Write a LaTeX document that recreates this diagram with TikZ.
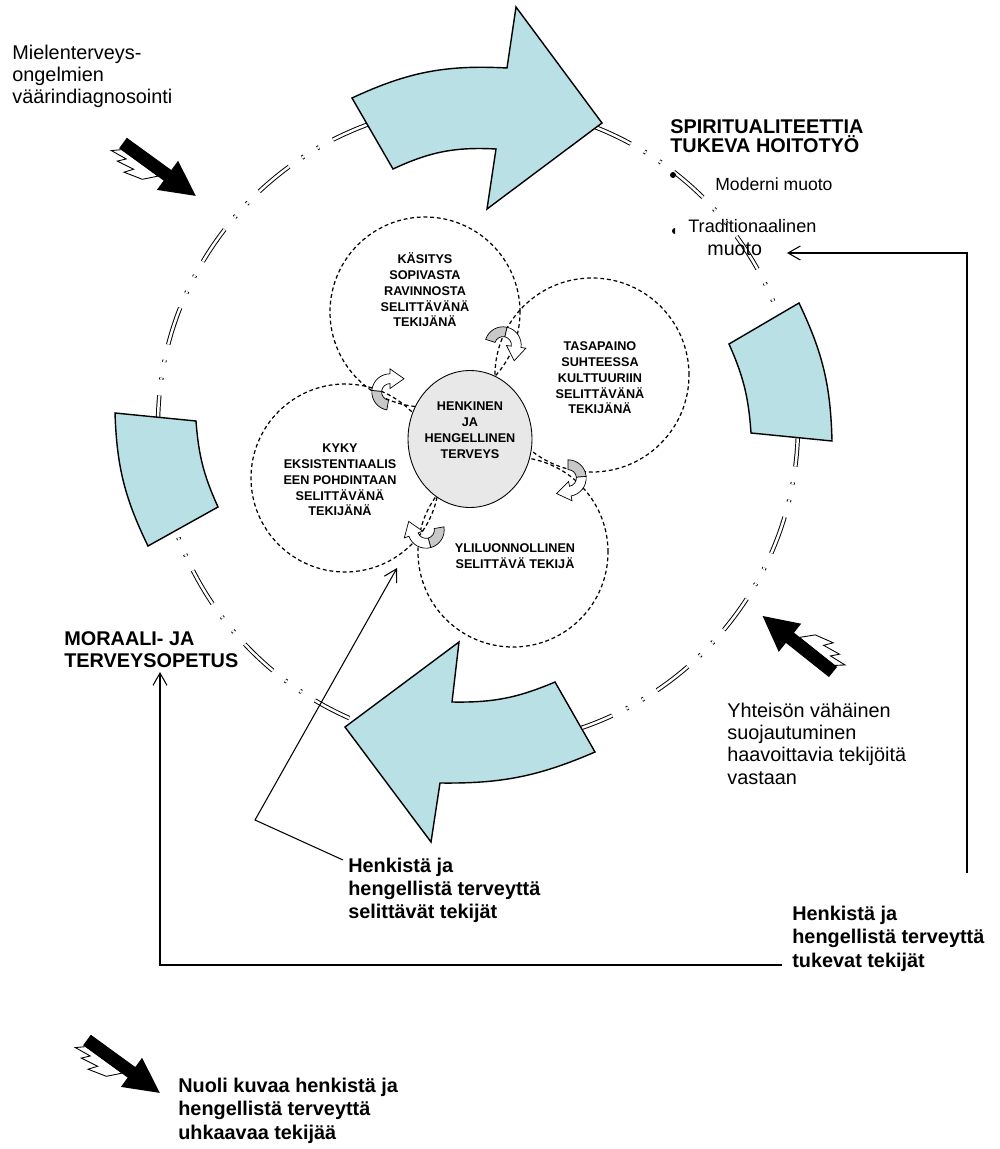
\documentclass[tikz,border=0pt]{standalone}
\usepackage{fontspec}
\setmainfont{Liberation Sans}
\usetikzlibrary{arrows.meta,shapes.geometric}
\definecolor{arrblue}{RGB}{185,224,228}
\definecolor{cycgray}{RGB}{200,200,200}
\definecolor{hubgray}{RGB}{232,232,232}
\begin{document}
\begin{tikzpicture}[x=0.02cm,y=0.02cm,
  ringline/.style={double, double distance=1.4pt, line width=0.55pt,
     dash pattern=on 22pt off 9pt on 1.2pt off 9pt on 1.2pt off 9pt},
  bluebox/.style={fill=arrblue, draw=black, line width=0.8pt},
  dcircle/.style={draw, dash pattern=on 2.2pt off 1.6pt, line width=0.7pt},
  inlabel/.style={font=\bfseries\fontsize{7.2}{9}\selectfont, align=center, inner sep=0pt},
  maintext/.style={align=left, inner sep=0pt, anchor=base west},
  conn/.style={line width=0.6pt},
  openarrow/.style={-{Straight Barb[length=7pt,width=8pt]}},
  cyc/.pic={
    \filldraw[fill=cycgray, line width=0.4pt] (180:13) arc[start angle=180,end angle=95,radius=13]
       -- (95:6) arc[start angle=95,end angle=180,radius=6] -- cycle;
    \filldraw[fill=white, line width=0.4pt] (95:13) arc[start angle=95,end angle=10,radius=13]
       -- (16.25,2.87) -- (11.09,-8.2) -- (2.46,0.43) -- (10:6) arc[start angle=10,end angle=95,radius=6] -- cycle;
  },
  threat/.pic={
    \filldraw[fill=white, line width=0.5pt] (3,-6) -- (-5,-13) -- (12,-11) -- (6,-18) -- (24,-15)
       -- (18,-23) -- (37,-18) -- (48,-6) -- cycle;
    \fill[black] (0,-6.5) -- (55,-6.5) -- (55,-18) -- (90,0) -- (55,18) -- (55,6.5) -- (0,6.5) -- cycle;
  }
]
\useasboundingbox (0,0) rectangle (1000,-1149);

% outer ring
\draw[ringline, dash phase=10pt] (478,-425) circle[radius=320];

% big blue shapes
\draw[bluebox] (352,-98) to[bend left=14] (507,-68) -- (516,-7) -- (602,-123) -- (487,-209) -- (496,-149) to[bend right=14] (393,-169) -- cycle;
\draw[bluebox] (555,-682) to[bend left=12] (452,-702) -- (459,-642) -- (345,-727) -- (431,-842) -- (440,-783) to[bend right=12] (595,-752) -- cycle;
\draw[bluebox] (729,-344) -- (799,-303) to[bend left=12] (832,-441) -- (751,-433) to[bend right=10] (729,-344) -- cycle;
\draw[bluebox] (115,-413) -- (196,-421) to[bend right=10] (218,-507) -- (148,-546) to[bend left=12] (115,-413) -- cycle;

% inner dashed circles
\draw[dcircle] (425,-312) circle[radius=95];
\draw[dcircle] (592,-375) circle[radius=97];
\draw[dcircle] (345,-478) circle[radius=94];
\draw[dcircle] (513,-552) circle[radius=95];
\node[ellipse, draw, fill=hubgray, line width=0.5pt, minimum width=2.48cm, minimum height=2.74cm, inner sep=0pt] (hubc) at (470,-439) {};

% inner labels
\node[inlabel] (kasitys) at (425,-290) {KÄSITYS\\SOPIVASTA\\RAVINNOSTA\\SELITTÄVÄNÄ\\TEKIJÄNÄ};
\node[inlabel] (tasapaino) at (600,-378) {TASAPAINO\\SUHTEESSA\\KULTTUURIIN\\SELITTÄVÄNÄ\\TEKIJÄNÄ};
\node[inlabel] (kyky) at (340,-480) {KYKY\\EKSISTENTIAALIS\\EEN POHDINTAAN\\SELITTÄVÄNÄ\\TEKIJÄNÄ};
\node[inlabel] (yli) at (515,-556) {YLILUONNOLLINEN\\SELITTÄVÄ TEKIJÄ};
\node[inlabel] (hub) at (470,-430) {HENKINEN\\JA\\HENGELLINEN\\TERVEYS};

% small cycle arrows
\pic[rotate=-18, scale=1.4] at (503,-345) {cyc};
\pic[rotate=80, scale=1.4] at (390,-392) {cyc};
\pic[rotate=-90, scale=1.4] at (568,-478) {cyc};
\pic[rotate=190, scale=1.4] at (426,-530) {cyc};

% threat arrows
\pic[rotate=-36] at (123,-143) {threat};
\pic[rotate=141.5] at (833,-672) {threat};
\pic[rotate=-36] at (87,-1040) {threat};

% texts (anchor = baseline of the last line)
\node[maintext, font=\fontsize{11.3}{12.76}\selectfont] (mielen) at (12,-104) {Mielenterveys-\\ongelmien\\väärindiagnosointi};
\node[maintext, font=\bfseries\fontsize{11.3}{11.34}\selectfont] (spirit) at (670,-153) {SPIRITUALITEETTIA\\TUKEVA HOITOTYÖ};
\fill (673,-175) circle[radius=3];
\node[maintext, font=\fontsize{10}{12}\selectfont] (moderni) at (715,-190) {Moderni muoto};
\fill (675,-228) arc[start angle=90,end angle=270,radius=3] -- cycle;
\node[maintext, font=\fontsize{10.3}{12}\selectfont] (trad) at (688,-232) {Traditionaalinen};
\node[maintext, font=\fontsize{11.2}{12}\selectfont] (muoto) at (707,-255) {muoto};
\node[maintext, font=\bfseries\fontsize{11.3}{12.47}\selectfont] (moraali) at (64,-667) {MORAALI- JA\\TERVEYSOPETUS};
\node[maintext, font=\fontsize{11.3}{12.64}\selectfont] (yhteiso) at (727,-784) {Yhteisön vähäinen\\suojautuminen\\haavoittavia tekijöitä\\vastaan};
\node[maintext, font=\bfseries\fontsize{11.3}{13}\selectfont] (midtxt) at (348,-918) {Henkistä ja\\hengellistä terveyttä\\selittävät tekijät};
\node[maintext, font=\bfseries\fontsize{11.3}{13.3}\selectfont] (righttxt) at (792,-967) {Henkistä ja\\hengellistä terveyttä\\tukevat tekijät};
\node[maintext, font=\bfseries\fontsize{11.3}{13.3}\selectfont] (legend) at (178,-1139) {Nuoli kuvaa henkistä ja\\hengellistä terveyttä\\uhkaavaa tekijää};

% connectors
\coordinate (kykytip) at (397,-568);
\coordinate (corner) at (255,-820);
\coordinate (midstart) at (343,-860);
\draw[conn, openarrow] (midstart) -- (corner) -- (kykytip);
\coordinate (rbottom) at (967,-873);
\coordinate (rtop) at (967,-253);
\coordinate (muototip) at (787,-253);
\draw[conn, openarrow] (rbottom) -- (rtop) -- (muototip);
\coordinate (hstart) at (782,-965);
\coordinate (hcorner) at (160,-965);
\coordinate (moraalitip) at (160,-672);
\draw[conn, openarrow] (hstart) -- (hcorner) -- (moraalitip);
\end{tikzpicture}
\end{document}
